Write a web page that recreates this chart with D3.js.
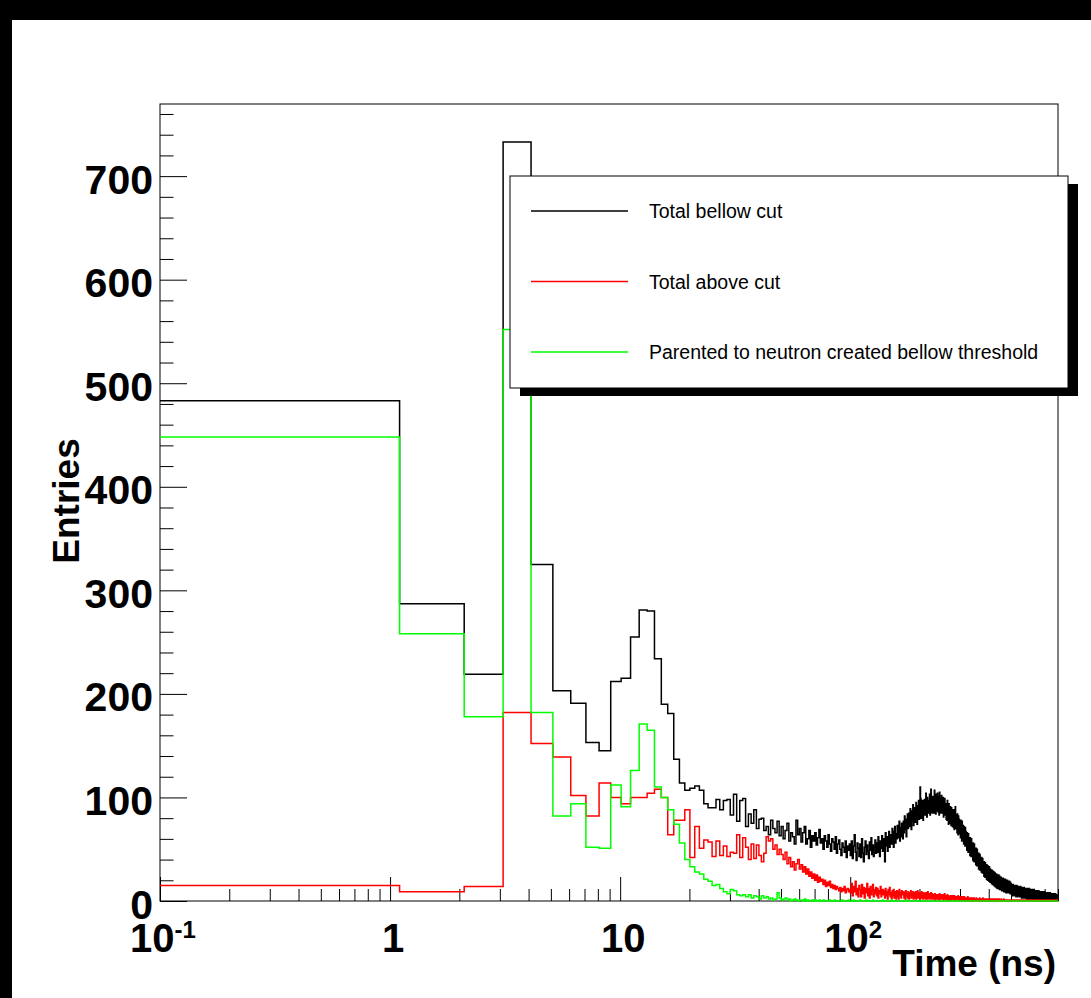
<!DOCTYPE html>
<html>
<head>
<meta charset="utf-8">
<script src="https://cdn.jsdelivr.net/npm/d3@7"></script>
<style>
  body { margin: 0; background: #000; }
  svg text { font-family: "Liberation Sans", Arial, Helvetica, sans-serif; }
</style>
</head>
<body>
<svg id="chart" width="1091" height="998"></svg>
<script>
// histogram range: 800 bins from 0.1 to 800 ns
const tMin = 0.1, tMax = 800;

// Total bellow cut (black)
const totalBellow = [
  483,287,219,733,325,203,191,153,145,212, 215,255,281,280,234,190,181,137,114,107,
  109,111,107,94,90,90,98,88,97,98, 83,103,77,97,99,72,84,75,88,70,
  79,80,68,72,64,78,70,66,77,63, 72,60,68,75,58,66,62,55,78,64,
  70,57,66,72,55,60,68,52,63,58, 66,54,61,69,56,60,50,63,58,52,
  64,55,48,60,57,50,62,46,55,59, 50,44,56,52,47,58,42,53,49,55,
  44,58,41,53,64,47,39,56,51,43, 55,42,60,46,38,52,58,45,54,48,
  41,57,49,61,45,54,43,52,59,46, 56,47,62,50,43,58,51,63,48,57,
  60,38,66,53,62,48,59,67,52,61, 64,55,70,57,52,67,72,56,65,60,
  73,61,69,77,58,71,62,75,67,60, 77,66,82,69,79,62,75,84,70,78,
  85,72,89,75,69,87,78,93,73,82, 90,76,87,95,80,74,92,82,97,79,
  92,110,99,80,93,84,97,78,95,86, 98,83,94,104,87,81,100,89,85,97,
  88,103,83,97,108,86,99,85,101,91, 100,85,107,89,98,84,103,92,87,104,
  97,86,101,83,105,90,85,99,91,102, 85,96,88,100,81,95,86,99,83,94,
  93,79,92,78,97,84,90,74,94,82, 89,75,91,80,73,90,79,88,72,87,
  86,71,88,69,84,76,91,70,83,75, 81,66,84,70,64,82,69,79,65,78,
  76,61,78,64,75,58,77,65,60,73, 70,55,72,58,69,53,71,57,67,55,
  64,49,66,52,62,47,65,51,61,50, 59,44,61,47,57,43,60,46,56,45,
  54,39,56,42,52,38,55,42,51,40, 49,35,51,37,47,34,50,37,46,35,
  45,31,46,33,43,30,45,33,42,32, 41,28,42,29,39,27,41,29,38,28,
  37,24,38,26,35,23,37,25,34,25, 34,21,35,23,32,20,34,22,31,22,
  32,19,33,20,30,18,31,20,29,19, 29,17,30,18,27,16,29,18,26,17,
  27,15,28,16,25,14,27,16,24,15, 25,13,26,14,23,12,25,14,22,13,
  24,12,25,13,22,11,24,13,21,12, 23,11,23,12,21,10,22,12,20,11,
  22,10,22,11,20,9,21,11,19,10, 21,9,21,10,19,8,20,10,18,9,
  20,8,20,9,18,8,19,9,17,8, 19,8,19,8,17,7,18,8,16,7,
  17,7,16,8,15,5,16,9,14,6, 16,6,15,8,14,5,15,7,13,6,
  15,6,14,7,13,4,15,7,12,5, 15,5,14,7,12,4,14,6,12,5,
  14,5,13,6,12,4,13,6,11,4, 14,4,13,6,11,3,13,5,11,4,
  13,4,12,5,11,3,12,5,10,4, 13,3,12,5,10,3,12,4,10,3,
  12,3,11,5,10,2,11,4,9,3, 12,3,11,4,9,2,11,4,9,3,
  12,2,11,4,9,2,10,4,9,2, 11,2,10,4,9,2,10,3,8,2,
  11,2,10,3,8,1,10,3,8,2, 11,2,10,3,8,1,9,3,8,2,
  10,1,9,3,8,1,9,3,7,2, 10,1,9,3,7,1,9,2,7,1,
  10,1,9,2,7,1,8,2,7,1, 9,1,8,2,7,0,8,2,6,1,
  9,1,8,2,6,0,8,2,6,1, 9,1,8,2,6,0,8,2,6,1,
  9,0,8,2,6,0,7,2,6,1, 8,0,7,2,6,0,7,1,5,1,
  8,0,7,2,5,0,7,1,5,1, 8,0,7,1,5,0,7,1,5,0,
  8,0,7,1,5,0,6,1,5,0, 7,0,6,1,5,0,6,1,4,0,
  7,0,6,1,4,0,6,1,4,0, 7,0,6,1,4,0,6,1,4,0,
  7,0,6,1,4,0,5,1,4,0, 6,0,5,1,4,0,5,1,3,0
];

// Total above cut (red)
const totalAbove = [
  15,9,14,182,152,139,102,82,114,100, 94,100,100,104,108,100,64,78,78,88,
  42,72,51,59,57,43,58,44,53,43, 47,46,64,42,61,52,40,55,41,54,
  44,38,46,62,58,60,50,54,45,50, 45,40,47,36,42,33,38,30,36,40,
  31,35,28,33,26,31,24,28,22,26, 20,25,18,23,19,21,16,20,14,18,
  15,19,13,16,12,15,11,14,12,10, 13,9,12,10,14,8,11,12,9,11,
  8,17,5,14,9,19,6,12,4,15, 11,4,16,7,13,3,12,8,17,5,
  12,3,14,6,10,16,4,11,7,13, 5,12,3,10,7,14,4,9,11,6,
  10,3,12,5,9,2,11,6,13,4, 8,2,10,5,11,3,9,6,2,10,
  4,9,2,11,5,8,3,10,6,7, 9,3,8,2,10,5,7,3,9,4,
  2,8,5,10,3,7,4,9,2,8, 6,3,9,2,7,4,10,3,6,5,
  8,2,6,4,9,3,7,2,8,5, 3,7,2,8,4,6,2,9,3,6,
  7,2,5,3,8,4,2,7,3,5, 2,6,4,7,1,5,3,6,2,5,
  6,2,4,1,7,3,5,2,6,3, 2,5,3,6,1,4,2,7,3,4,
  5,1,4,2,6,3,1,5,2,4, 1,4,3,5,2,1,4,2,5,3,
  4,2,1,5,2,3,1,4,2,3, 2,4,1,3,5,1,3,2,4,1,
  3,1,4,2,1,3,2,4,1,3, 1,3,2,4,0,2,3,1,3,2,
  2,0,3,1,4,2,1,3,0,2, 1,3,0,2,3,1,2,0,3,1,
  3,1,2,0,2,3,1,2,1,0, 0,2,1,3,1,0,2,1,2,1,
  2,0,1,2,0,3,1,0,2,1, 1,2,0,1,2,0,1,3,0,1,
  0,1,2,0,1,2,0,1,1,2, 1,0,2,1,0,1,2,0,1,0,
  1,2,1,0,2,1,1,2,0,1, 1,0,2,1,1,0,1,2,1,0,
  2,1,0,1,1,2,0,1,1,1, 0,1,2,1,0,1,1,0,2,1,
  1,1,0,1,2,0,1,1,0,1, 1,0,1,2,0,1,0,1,1,0,
  0,1,1,0,1,2,0,1,0,1, 1,0,1,1,0,1,0,0,1,1,
  0,1,0,1,1,0,1,0,1,0, 1,0,1,0,0,1,1,0,1,0,
  0,1,0,1,0,1,0,0,1,0, 1,0,0,1,0,1,0,0,1,0,
  0,1,0,0,1,0,0,1,0,0, 1,0,0,0,1,0,1,0,0,1,
  0,0,1,0,0,1,0,0,0,1, 0,1,0,0,1,0,0,0,1,0,
  0,0,1,0,0,0,1,0,0,1, 0,1,0,0,0,1,0,0,1,0,
  1,0,0,0,1,0,0,1,0,0, 0,0,1,0,0,0,0,1,0,0,
  1,0,0,0,0,1,0,0,0,1, 0,0,0,1,0,0,1,0,0,0,
  0,1,0,0,0,0,1,0,0,0, 1,0,0,0,1,0,0,0,0,1,
  0,0,1,0,0,0,0,1,0,0, 0,0,0,1,0,0,0,0,1,0,
  1,0,0,0,0,0,1,0,0,0, 0,0,1,0,0,0,0,0,1,0,
  0,1,0,0,0,0,0,1,0,0, 0,0,0,0,1,0,0,0,0,1,
  0,0,1,0,0,0,0,0,0,1, 0,0,0,1,0,0,0,0,1,0,
  0,1,0,0,0,0,0,1,0,0, 0,0,0,0,1,0,0,0,0,0,
  1,0,0,0,0,0,1,0,0,0, 0,0,0,1,0,0,0,0,0,1,
  0,0,0,0,0,1,0,0,0,0, 0,1,0,0,0,0,0,0,1,0,
  0,0,0,0,1,0,0,0,0,0, 0,0,1,0,0,0,0,0,0,0
];

// Parented to neutron created bellow threshold (green)
const neutronParented = [
  448,258,178,552,182,82,94,52,51,112, 91,126,171,165,110,100,88,74,56,40,
  33,28,26,21,19,15,16,12,9,7, 11,10,6,5,6,4,6,3,5,4,
  2,5,3,4,2,3,1,2,8,3, 1,2,3,1,2,0,1,2,1,0,
  1,1,0,2,0,1,0,0,1,0, 1,0,0,1,0,0,1,0,0,0,
  0,1,0,0,0,1,0,0,0,0, 0,0,1,0,0,0,0,0,1,0,
  0,0,0,1,0,0,0,0,0,0, 1,0,0,0,0,0,0,1,0,0,
  0,0,0,0,0,1,0,0,0,0, 0,0,0,0,0,0,0,0,1,0,
  0,0,0,0,0,0,0,0,0,0, 0,1,0,0,0,0,0,0,0,0,
  0,0,0,0,0,0,0,0,0,0, 0,0,0,0,0,0,1,0,0,0,
  0,0,0,0,0,0,0,0,0,0, 0,0,0,0,0,0,0,0,0,0,
  0,0,0,0,0,0,0,0,0,0, 0,0,0,0,0,0,0,0,0,0,
  0,0,0,0,0,0,0,0,0,0, 0,0,0,0,0,0,0,0,0,0,
  0,0,0,0,0,0,0,0,0,0, 0,0,0,0,0,0,0,0,0,0,
  0,0,0,0,0,0,0,0,0,0, 0,0,0,0,0,0,0,0,0,0,
  0,0,0,0,0,0,0,0,0,0, 0,0,0,0,0,0,0,0,0,0,
  0,0,0,0,0,0,0,0,0,0, 0,0,0,0,0,0,0,0,0,0,
  0,0,0,0,0,0,0,0,0,0, 0,0,0,0,0,0,0,0,0,0,
  0,0,0,0,0,0,0,0,0,0, 0,0,0,0,0,0,0,0,0,0,
  0,0,0,0,0,0,0,0,0,0, 0,0,0,0,0,0,0,0,0,0,
  0,0,0,0,0,0,0,0,0,0, 0,0,0,0,0,0,0,0,0,0,
  0,0,0,0,0,0,0,0,0,0, 0,0,0,0,0,0,0,0,0,0,
  0,0,0,0,0,0,0,0,0,0, 0,0,0,0,0,0,0,0,0,0,
  0,0,0,0,0,0,0,0,0,0, 0,0,0,0,0,0,0,0,0,0,
  0,0,0,0,0,0,0,0,0,0, 0,0,0,0,0,0,0,0,0,0,
  0,0,0,0,0,0,0,0,0,0, 0,0,0,0,0,0,0,0,0,0,
  0,0,0,0,0,0,0,0,0,0, 0,0,0,0,0,0,0,0,0,0,
  0,0,0,0,0,0,0,0,0,0, 0,0,0,0,0,0,0,0,0,0,
  0,0,0,0,0,0,0,0,0,0, 0,0,0,0,0,0,0,0,0,0,
  0,0,0,0,0,0,0,0,0,0, 0,0,0,0,0,0,0,0,0,0,
  0,0,0,0,0,0,0,0,0,0, 0,0,0,0,0,0,0,0,0,0,
  0,0,0,0,0,0,0,0,0,0, 0,0,0,0,0,0,0,0,0,0,
  0,0,0,0,0,0,0,0,0,0, 0,0,0,0,0,0,0,0,0,0,
  0,0,0,0,0,0,0,0,0,0, 0,0,0,0,0,0,0,0,0,0,
  0,0,0,0,0,0,0,0,0,0, 0,0,0,0,0,0,0,0,0,0,
  0,0,0,0,0,0,0,0,0,0, 0,0,0,0,0,0,0,0,0,0,
  0,0,0,0,0,0,0,0,0,0, 0,0,0,0,0,0,0,0,0,0,
  0,0,0,0,0,0,0,0,0,0, 0,0,0,0,0,0,0,0,0,0,
  0,0,0,0,0,0,0,0,0,0, 0,0,0,0,0,0,0,0,0,0,
  0,0,0,0,0,0,0,0,0,0, 0,0,0,0,0,0,0,0,0,0,
  0,0,0,0,0,0,0,0,0,0, 0,0,0,0,0,0,0,0,0,0
];

const seriesNames = ['Total bellow cut', 'Total above cut', 'Parented to neutron created bellow threshold'];
const seriesColors = ['#000000', '#ff0000', '#00ff00'];

const yMajor = [0, 100, 200, 300, 400, 500, 600, 700];
const xMajor = [0.1, 1, 10, 100];
const xLabelBase = ['10', '1', '10', '10'];
const xLabelSup = ['-1', '', '', '2'];

// ---- layout ----
const W = 1091, H = 998;
const frame = { left: 160, right: 1058, top: 104, bottom: 901 };

const svg = d3.select('#chart');

// page background (the capture has a dark border top / left)
svg.append('rect').attr('x', 12).attr('y', 20).attr('width', W - 12).attr('height', H - 20).attr('fill', '#fff');

const x = d3.scaleLog().domain([tMin, tMax]).range([frame.left, frame.right]);
const yMax = d3.max(totalBellow) * 1.05;
const y = d3.scaleLinear().domain([0, yMax]).range([frame.bottom, frame.top]);

// frame
svg.append('rect')
  .attr('x', frame.left).attr('y', frame.top)
  .attr('width', frame.right - frame.left).attr('height', frame.bottom - frame.top)
  .attr('fill', 'none').attr('stroke', '#000').attr('stroke-width', 1);

// y axis: major + minor ticks pointing inside
const yMinor = d3.range(0, yMax, 20).filter(v => v % 100 !== 0);
svg.append('g')
  .attr('transform', `translate(${frame.left},0)`)
  .call(d3.axisLeft(y).tickValues(yMinor).tickSize(-13.5).tickFormat(''))
  .call(g => g.select('.domain').remove());
const gy = svg.append('g')
  .attr('transform', `translate(${frame.left},0)`)
  .call(d3.axisLeft(y).tickValues(yMajor).tickSize(-27).tickPadding(7).tickFormat(d3.format('d')))
  .call(g => g.select('.domain').remove());
gy.selectAll('text')
  .attr('dy', null).attr('y', 17)
  .attr('font-size', 41).attr('font-weight', 'bold').attr('fill', '#000');
gy.selectAll('line').attr('stroke', '#000');

// x axis: log ticks
const xMinor = [];
[0.1, 1, 10, 100].forEach(d => { for (let k = 2; k <= 9; k++) if (d * k <= tMax) xMinor.push(d * k); });
svg.append('g')
  .attr('transform', `translate(0,${frame.bottom})`)
  .call(d3.axisBottom(x).tickValues(xMinor).tickSize(-12).tickFormat(''))
  .call(g => g.select('.domain').remove());
svg.append('g')
  .attr('transform', `translate(0,${frame.bottom})`)
  .call(d3.axisBottom(x).tickValues(xMajor).tickSize(-24).tickFormat(''))
  .call(g => g.select('.domain').remove());

const xl = svg.append('g').selectAll('text').data(xMajor).join('text')
  .attr('x', d => x(d) + 3).attr('y', 952)
  .attr('text-anchor', 'middle')
  .attr('font-size', 40).attr('font-weight', 'bold');
xl.append('tspan').text((d, i) => xLabelBase[i]);
xl.append('tspan').attr('font-size', 24).attr('dy', -14).text((d, i) => xLabelSup[i]);

// axis titles
svg.append('text')
  .attr('x', 1056).attr('y', 976)
  .attr('text-anchor', 'end')
  .attr('font-size', 37).attr('font-weight', 'bold')
  .text('Time (ns)');
svg.append('text')
  .attr('transform', 'translate(79,501) rotate(-90)')
  .attr('text-anchor', 'middle')
  .attr('font-size', 37).attr('font-weight', 'bold')
  .text('Entries');

// histograms as step lines
const binW = (tMax - tMin) / totalBellow.length;
const step = d3.line().x(d => x(d[0])).y(d => y(d[1])).curve(d3.curveStepAfter);
[totalBellow, totalAbove, neutronParented].forEach((vals, s) => {
  const pts = vals.map((v, i) => [tMin + i * binW, v]);
  pts.push([tMax, vals[vals.length - 1]]);
  svg.append('path')
    .attr('d', step(pts))
    .attr('fill', 'none')
    .attr('stroke', seriesColors[s])
    .attr('stroke-width', 1.5);
});

// legend with shadow
const leg = { x: 510, y: 176, w: 558, h: 212 };
svg.append('rect').attr('x', leg.x + 10).attr('y', leg.y + 8).attr('width', leg.w).attr('height', leg.h).attr('fill', '#000');
svg.append('rect').attr('x', leg.x).attr('y', leg.y).attr('width', leg.w).attr('height', leg.h)
  .attr('fill', '#fff').attr('stroke', '#000').attr('stroke-width', 1);
const rowY = d3.scalePoint().domain(seriesNames).range([211, 352]);
seriesNames.forEach((name, i) => {
  svg.append('line')
    .attr('x1', 531).attr('x2', 628)
    .attr('y1', rowY(name)).attr('y2', rowY(name))
    .attr('stroke', seriesColors[i]).attr('stroke-width', 1.5);
  svg.append('text')
    .attr('x', 649).attr('y', rowY(name) + 7)
    .attr('font-size', 19.5).attr('fill', '#000')
    .text(name);
});
</script>
</body>
</html>
